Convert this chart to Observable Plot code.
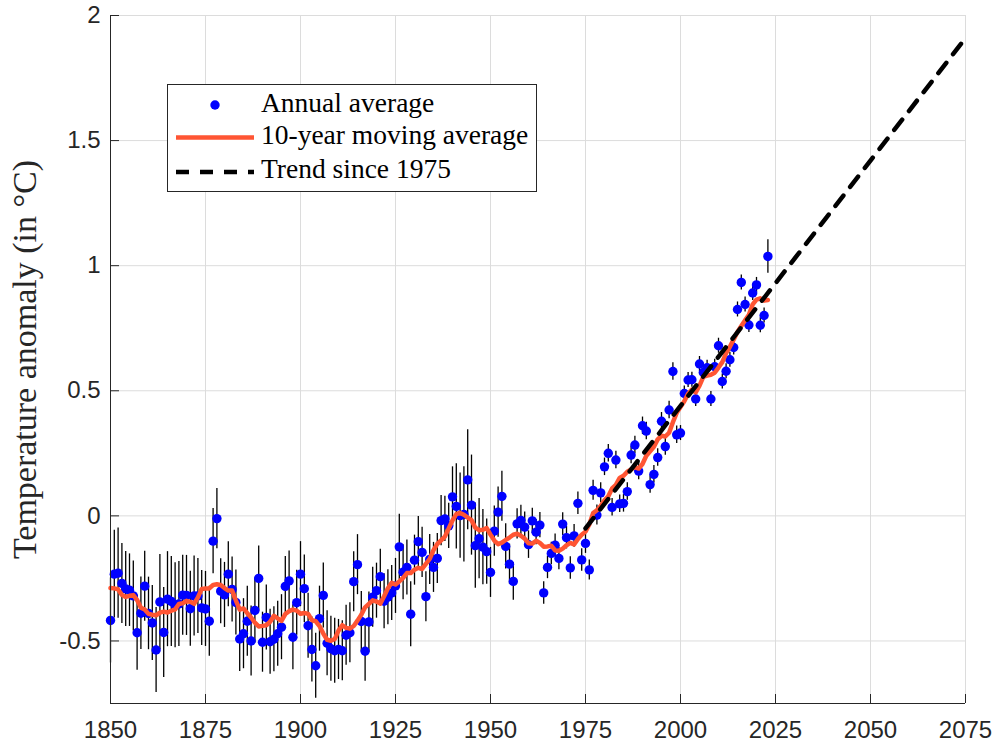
<!DOCTYPE html>
<html>
<head>
<meta charset="utf-8">
<script src="https://cdn.jsdelivr.net/npm/d3@7"></script>
<script src="https://cdn.jsdelivr.net/npm/@observablehq/plot@0.6"></script>
<style>
  body { margin: 0; background: #ffffff; }
  #wrap { position: relative; width: 993px; height: 746px; }
</style>
</head>
<body>
<div id="wrap"></div>
<script>
// ---- Data ----
const years = d3.range(1850, 2024);

const anomalies = [
  -0.418, -0.233, -0.229, -0.270, -0.292, -0.297, -0.320, -0.467, -0.389, -0.281, // 1850s
  -0.390, -0.428, -0.536, -0.344, -0.466, -0.333, -0.342, -0.357, -0.352, -0.317, // 1860s
  -0.318, -0.371, -0.320, -0.320, -0.368, -0.372, -0.421, -0.101, -0.011, -0.301, // 1870s
  -0.316, -0.233, -0.294, -0.346, -0.492, -0.471, -0.421, -0.500, -0.378, -0.250, // 1880s
  -0.505, -0.406, -0.503, -0.493, -0.471, -0.445, -0.282, -0.260, -0.485, -0.347, // 1890s
  -0.233, -0.291, -0.439, -0.534, -0.599, -0.411, -0.318, -0.509, -0.531, -0.539, // 1900s
  -0.534, -0.539, -0.477, -0.467, -0.263, -0.195, -0.422, -0.541, -0.424, -0.325, // 1910s
  -0.299, -0.243, -0.341, -0.325, -0.308, -0.280, -0.124, -0.225, -0.206, -0.393, // 1920s
  -0.177, -0.103, -0.146, -0.323, -0.174, -0.206, -0.170, -0.019, -0.012, -0.040, // 1930s
   0.076,  0.038,  0.001,  0.006,  0.144,  0.043, -0.119, -0.091, -0.125, -0.143, // 1940s
  -0.226, -0.061,  0.015,  0.078, -0.122, -0.193, -0.262, -0.032, -0.018, -0.045, // 1950s
  -0.115, -0.020, -0.065, -0.037, -0.308, -0.206, -0.150, -0.117, -0.170, -0.033, // 1960s
  -0.087, -0.208, -0.080,  0.050, -0.176, -0.110, -0.216,  0.102,  0.003,  0.092, // 1970s
   0.196,  0.250,  0.034,  0.223,  0.048,  0.050,  0.097,  0.243,  0.283,  0.179, // 1980s
   0.360,  0.339,  0.125,  0.166,  0.233,  0.378,  0.277,  0.423,  0.577,  0.324, // 1990s
   0.331,  0.489,  0.543,  0.544,  0.467,  0.607,  0.573,  0.592,  0.467,  0.596, // 2000s
   0.680,  0.537,  0.578,  0.624,  0.673,  0.825,  0.933,  0.845,  0.763,  0.891, // 2010s
   0.923,  0.762,  0.801,  1.037                                                  // 2020s
];

// half-width of the error bars (95% range)
const uncertainties = [
  0.17, 0.175, 0.18, 0.16, 0.15, 0.145, 0.14, 0.15, 0.145, 0.14,
  0.145, 0.15, 0.17, 0.19, 0.18, 0.19, 0.18, 0.17, 0.17, 0.16,
  0.16, 0.15, 0.16, 0.15, 0.15, 0.15, 0.14, 0.13, 0.12, 0.13,
  0.13, 0.13, 0.13, 0.13, 0.13, 0.14, 0.14, 0.14, 0.13, 0.13,
  0.12, 0.13, 0.13, 0.13, 0.13, 0.13, 0.12, 0.12, 0.13, 0.13,
  0.13, 0.135, 0.13, 0.13, 0.13, 0.13, 0.13, 0.13, 0.13, 0.13,
  0.12, 0.12, 0.12, 0.12, 0.12, 0.12, 0.12, 0.12, 0.12, 0.12,
  0.11, 0.11, 0.11, 0.11, 0.11, 0.11, 0.13, 0.11, 0.11, 0.13,
  0.10, 0.10, 0.10, 0.10, 0.10, 0.10, 0.10, 0.10, 0.09, 0.09,
  0.12, 0.17, 0.17, 0.19, 0.20, 0.20, 0.17, 0.16, 0.15, 0.13,
  0.10, 0.10, 0.10, 0.10, 0.09, 0.08, 0.075, 0.06, 0.06, 0.06,
  0.055, 0.05, 0.05, 0.05, 0.045, 0.045, 0.045, 0.045, 0.045, 0.045,
  0.045, 0.045, 0.045, 0.045, 0.045, 0.04, 0.04, 0.04, 0.04, 0.04,
  0.035, 0.035, 0.035, 0.035, 0.035, 0.035, 0.035, 0.035, 0.035, 0.035,
  0.035, 0.035, 0.035, 0.035, 0.035, 0.035, 0.035, 0.035, 0.035, 0.035,
  0.03, 0.03, 0.03, 0.03, 0.03, 0.03, 0.03, 0.03, 0.03, 0.03,
  0.03, 0.03, 0.03, 0.03, 0.03, 0.03, 0.03, 0.03, 0.03, 0.03,
  0.03, 0.03, 0.03, 0.067
];

// Trend since 1975, drawn to 2075
const trendYears  = [1975, 2075];
const trendValues = [-0.05, 1.91];

const xTicks = [1850, 1875, 1900, 1925, 1950, 1975, 2000, 2025, 2050, 2075];
const yTicks = [-0.5, 0, 0.5, 1, 1.5, 2];
const xDomain = [1850, 2075];
const yDomain = [-0.75, 2];

const seriesNames = ["Annual average", "10-year moving average", "Trend since 1975"];
const yLabel = "Temperature anomaly (in \u00B0C)";

// ---- Build tables ----
const data = years.map((year, i) => ({ year, value: anomalies[i], err: uncertainties[i] }));
const trend = trendYears.map((year, i) => ({ year, value: trendValues[i] }));

const axisColor = "#262626";
const blue = "#0000ff";
const red = "#ff5533";
const serif = "'Liberation Serif', 'Times New Roman', serif";
const sans = "'Liberation Sans', Arial, Helvetica, sans-serif";

const chart = Plot.plot({
  width: 993,
  height: 746,
  marginLeft: 110,
  marginRight: 28,
  marginTop: 15,
  marginBottom: 43,
  style: { background: "#ffffff", fontFamily: sans, color: axisColor, overflow: "visible" },
  x: { domain: xDomain },
  y: { domain: yDomain },
  marks: [
    Plot.gridX(xTicks, { stroke: "#dcdcdc", strokeOpacity: 1, strokeWidth: 1 }),
    Plot.gridY(yTicks, { stroke: "#dcdcdc", strokeOpacity: 1, strokeWidth: 1 }),
    Plot.ruleX(data, { x: "year", y1: d => d.value - d.err, y2: d => d.value + d.err, stroke: "#000000", strokeWidth: 1.3 }),
    Plot.dot(data, { x: "year", y: "value", r: 4.7, fill: blue, stroke: null }),
    Plot.lineY(data.slice().reverse(),
      Plot.windowY({ k: 10, anchor: "middle", reduce: "mean", strict: false },
        { x: "year", y: "value", stroke: red, strokeWidth: 4.5, strokeLinejoin: "round" })),
    Plot.line(trend, { x: "year", y: "value", stroke: "#000000", strokeWidth: 4.5, strokeDasharray: "13,11" }),
    Plot.ruleX([xDomain[0]], { stroke: axisColor, strokeWidth: 1 }),
    Plot.ruleY([yDomain[0]], { stroke: axisColor, strokeWidth: 1 }),
    Plot.axisX(xTicks, { tickSize: -9, tickPadding: 26, fontSize: 24, label: null, tickFormat: d => String(d) }),
    Plot.axisY(yTicks, { tickSize: -9, tickPadding: 19, fontSize: 24, label: null, tickFormat: d => String(d) }),
    Plot.axisY({ ticks: [], label: yLabel, labelAnchor: "center", labelArrow: "none", labelOffset: 99, fontSize: 34, fontFamily: serif })
  ]
});

const wrap = document.getElementById("wrap");
wrap.appendChild(chart);

// ---- Legend overlay (inside the plot area) ----
const leg = d3.select(wrap).append("svg")
  .attr("width", 993).attr("height", 746)
  .style("position", "absolute").style("left", "0px").style("top", "0px");

leg.append("rect")
  .attr("x", 167.5).attr("y", 84.5).attr("width", 369).attr("height", 107)
  .attr("fill", "#ffffff").attr("stroke", axisColor).attr("stroke-width", 1);

const rows = [105, 137.5, 172];
const baselines = [111.5, 144, 178];

leg.append("circle").attr("cx", 215).attr("cy", rows[0]).attr("r", 4.7).attr("fill", blue);
leg.append("line").attr("x1", 176).attr("x2", 254).attr("y1", rows[1]).attr("y2", rows[1])
  .attr("stroke", red).attr("stroke-width", 4.5);
leg.append("line").attr("x1", 176).attr("x2", 254).attr("y1", rows[2]).attr("y2", rows[2])
  .attr("stroke", "#000").attr("stroke-width", 4.5).attr("stroke-dasharray", "13,11");

seriesNames.forEach((name, i) => {
  leg.append("text").attr("x", 261).attr("y", baselines[i])
    .attr("font-family", serif).attr("font-size", 27.5).attr("fill", "#000")
    .text(name);
});
</script>
</body>
</html>
